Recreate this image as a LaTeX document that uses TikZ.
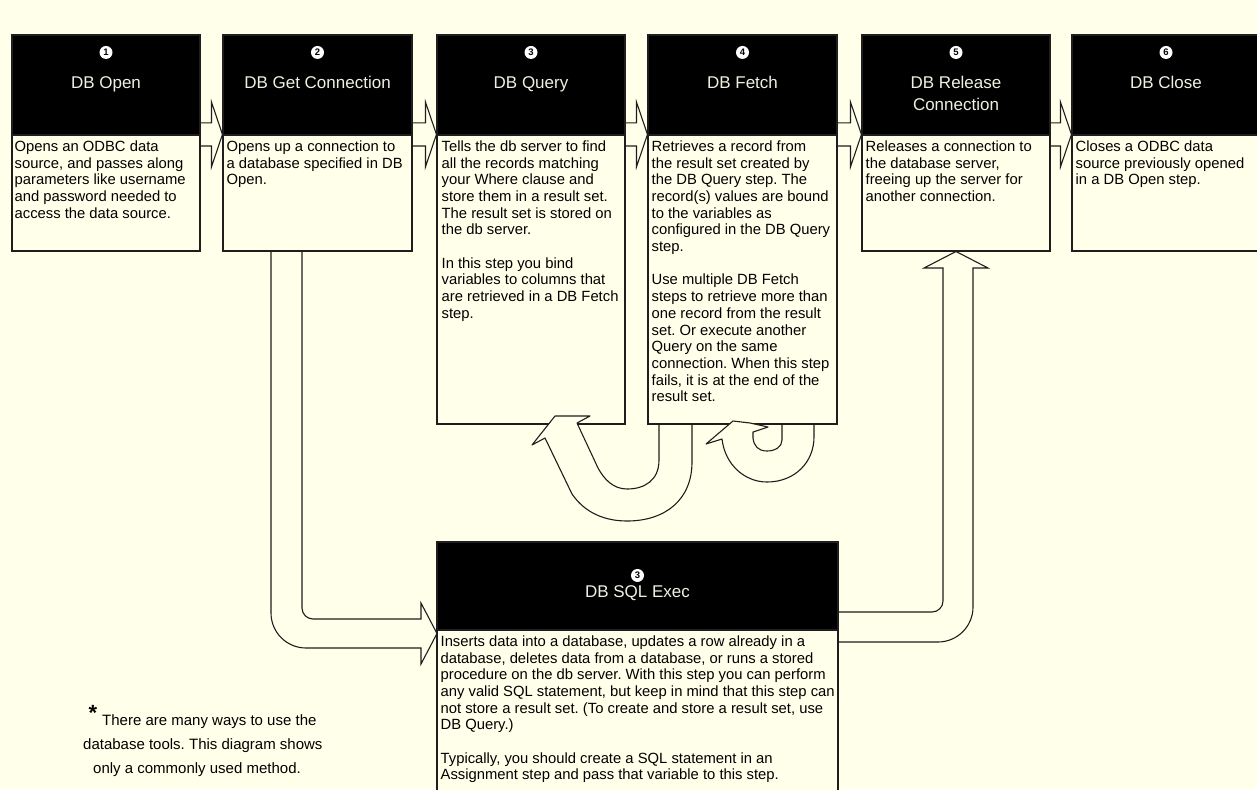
\documentclass[tikz,border=0pt]{standalone}
\usepackage{fontspec}
\setmainfont{Liberation Sans}
\usetikzlibrary{fit,calc}
\definecolor{bg}{RGB}{255,255,234}
\definecolor{ln}{RGB}{30,30,30}
\definecolor{ttlc}{RGB}{240,240,226}
\begin{document}
\frenchspacing
\begin{tikzpicture}[x=1pt,y=-1pt,
  hdr/.style={draw=ln, line width=1.1pt, fill=black, inner sep=0pt},
  bodybox/.style={draw=ln, line width=1.1pt, fill=bg, inner sep=0pt},
  num/.style={circle, fill=white, inner sep=0pt, minimum size=13pt, font=\fontsize{9.5}{9.5}\selectfont\bfseries, text=black},
  ttl/.style={text=ttlc, font=\fontsize{17}{22}\selectfont, anchor=base, inner sep=0pt},
  txt/.style={anchor=north west, inner sep=0pt, align=left, font=\fontsize{14.8}{16.7}\selectfont, text=black},
  note/.style={anchor=base west, inner sep=0pt, font=\fontsize{15}{24}\selectfont, text=black},
  flow/.style={draw=ln, line width=1.1pt, line join=miter},
  blk/.style={draw=ln, line width=1.1pt, fill=bg, line join=round}
]
\useasboundingbox (0,0) rectangle (1257,789);
\clip (0,0) rectangle (1257,789);
\fill[bg] (0,0) rectangle (1257,789);

% ---- step boxes ----
\node[hdr, fit={(12,35)(200,135)}] (h1) {};
\node[bodybox, fit={(12,135)(200,251)}] (b1) {};
\node[hdr, fit={(223,35)(412,135)}] (h2) {};
\node[bodybox, fit={(223,135)(412,251)}] (b2) {};
\node[hdr, fit={(437,35)(625,135)}] (h3) {};
\node[bodybox, fit={(437,135)(625,424)}] (b3) {};
\node[hdr, fit={(648,35)(837,135)}] (h4) {};
\node[bodybox, fit={(648,135)(837,424)}] (b4) {};
\node[hdr, fit={(862,35)(1050,135)}] (h5) {};
\node[bodybox, fit={(862,135)(1050,251)}] (b5) {};
\node[hdr, fit={(1072,35)(1260,135)}] (h6) {};
\node[bodybox, fit={(1072,135)(1260,251)}] (b6) {};
\node[hdr, fit={(437,542)(838,630)}] (hS) {};
\node[bodybox, fit={(437,630)(838,805)}] (bS) {};

% ---- numbers and titles ----
\foreach \h/\n in {h1/1,h2/2,h3/3,h4/4,h5/5,h6/6}
  \node[num] (n\h) at ([yshift=-18pt]\h.north) {\n};
\node[num] (nhS) at ([yshift=-34pt]hS.north) {3};

\node[ttl] (t1) at ([yshift=-54pt]h1.north) {DB Open};
\node[ttl] (t2) at ([yshift=-54pt]h2.north) {DB Get Connection};
\node[ttl] (t3) at ([yshift=-54pt]h3.north) {DB Query};
\node[ttl] (t4) at ([yshift=-54pt]h4.north) {DB Fetch};
\node[ttl] (t5) at ([yshift=-54pt]h5.north) {DB Release};
\node[ttl] (t5b) at ([yshift=-76pt]h5.north) {Connection};
\node[ttl] (t6) at ([yshift=-54pt]h6.north) {DB Close};
\node[ttl] (tS) at ([yshift=-56pt]hS.north) {DB SQL Exec};

% ---- body texts ----
\node[txt] (x1) at ([xshift=3pt,yshift=-5pt]b1.north west)
 {\strut Opens an ODBC data\\source, and passes along\\parameters like username\\and password needed to\\access the data source.};
\node[txt] (x2) at ([xshift=4pt,yshift=-5pt]b2.north west)
 {\strut Opens up a connection to\\a database specified in DB\\Open.};
\node[txt] (x3) at ([xshift=5pt,yshift=-5pt]b3.north west)
 {\strut Tells the db server to find\\all the records matching\\your Where clause and\\store them in a result set.\\The result set is stored on\\the db server.\\ \\In this step you bind\\variables to columns that\\are retrieved in a DB Fetch\\step.};
\node[txt] (x4) at ([xshift=4pt,yshift=-5pt]b4.north west)
 {\strut Retrieves a record from\\the result set created by\\the DB Query step. The\\record(s) values are bound\\to the variables as\\configured in the DB Query\\step.\\ \\Use multiple DB Fetch\\steps to retrieve more than\\one record from the result\\set. Or execute another\\Query on the same\\connection. When this step\\fails, it is at the end of the\\result set.};
\node[txt] (x5) at ([xshift=4pt,yshift=-5pt]b5.north west)
 {\strut Releases a connection to\\the database server,\\freeing up the server for\\another connection.};
\node[txt] (x6) at ([xshift=4pt,yshift=-5pt]b6.north west)
 {\strut Closes a ODBC data\\source previously opened\\in a DB Open step.};
\node[txt] (xS) at ([xshift=4pt,yshift=-5pt]bS.north west)
 {\strut Inserts data into a database, updates a row already in a\\database, deletes data from a database, or runs a stored\\procedure on the db server. With this step you can perform\\any valid SQL statement, but keep in mind that this step can\\not store a result set. (To create and store a result set, use\\DB Query.)\\ \\Typically, you should create a SQL statement in an\\Assignment step and pass that variable to this step.};

% ---- horizontal hollow arrows ----
\foreach \a/\b in {b1/b2,b2/b3,b3/b4,b4/b5,b5/b6}
  \draw[flow] let \p1=(\a.north east), \p2=(\b.north west) in
    (\x1,\y1+11.5pt) -- (\x2-11pt,\y1+11.5pt) -- (\x2-11pt,\y1+32.5pt)
    -- (\x2,\y1) -- (\x2-11pt,\y1-32.5pt) -- (\x2-11pt,\y1-11.5pt) -- (\x1,\y1-11.5pt);

% ---- DB Get Connection -> DB SQL Exec ----
\draw[flow] (302,251) -- (302,608) arc[start angle=180, end angle=90, radius=11]
  -- (421,619) -- (421,603) -- (437,633.5) -- (421,664) -- (421,648) -- (306,648)
  arc[start angle=90, end angle=180, radius=35] -- (271,251);

% ---- DB SQL Exec -> DB Release Connection ----
\draw[flow] (838,612) -- (932,612) arc[start angle=90, end angle=0, radius=11]
  -- (943,268) -- (924,268) -- (956,251.5) -- (988,268) -- (973,268) -- (973,607)
  arc[start angle=0, end angle=90, radius=35] -- (838,642);

% ---- DB Fetch -> DB Query (large U) ----
\filldraw[blk] (659,425) -- (659,460) .. controls (659,480) and (645,489) .. (627,489)
  .. controls (613,489) and (604,479) .. (598,468) -- (577,423) -- (590,416) -- (555,416)
  -- (532,445) -- (545,438) -- (572,494) .. controls (585,513) and (605,521) .. (627,521)
  .. controls (665,521) and (692,500) .. (692,462) -- (692,425);

% ---- DB Fetch -> DB Fetch (small loop) ----
\filldraw[blk] (782,425) -- (782,440) .. controls (782,447) and (775,451) .. (767,451)
  .. controls (758,451) and (754,446) .. (753,438) -- (753,432) -- (768,427) -- (750,423)
  -- (733,421) -- (706,444) -- (722,439) .. controls (725,465) and (745,482) .. (767,482)
  .. controls (795,482) and (814,462) .. (814,437) -- (814,425);

% ---- note ----
\node[inner sep=0pt, font=\fontsize{22}{22}\selectfont\bfseries] (star) at (93,713) {*};
\node[note] (l1) at (102,725) {There are many ways to use the};
\node[note] (l2) at (83,749) {database tools. This diagram shows};
\node[note] (l3) at (93,773) {only a commonly used method.};
\end{tikzpicture}
\end{document}
